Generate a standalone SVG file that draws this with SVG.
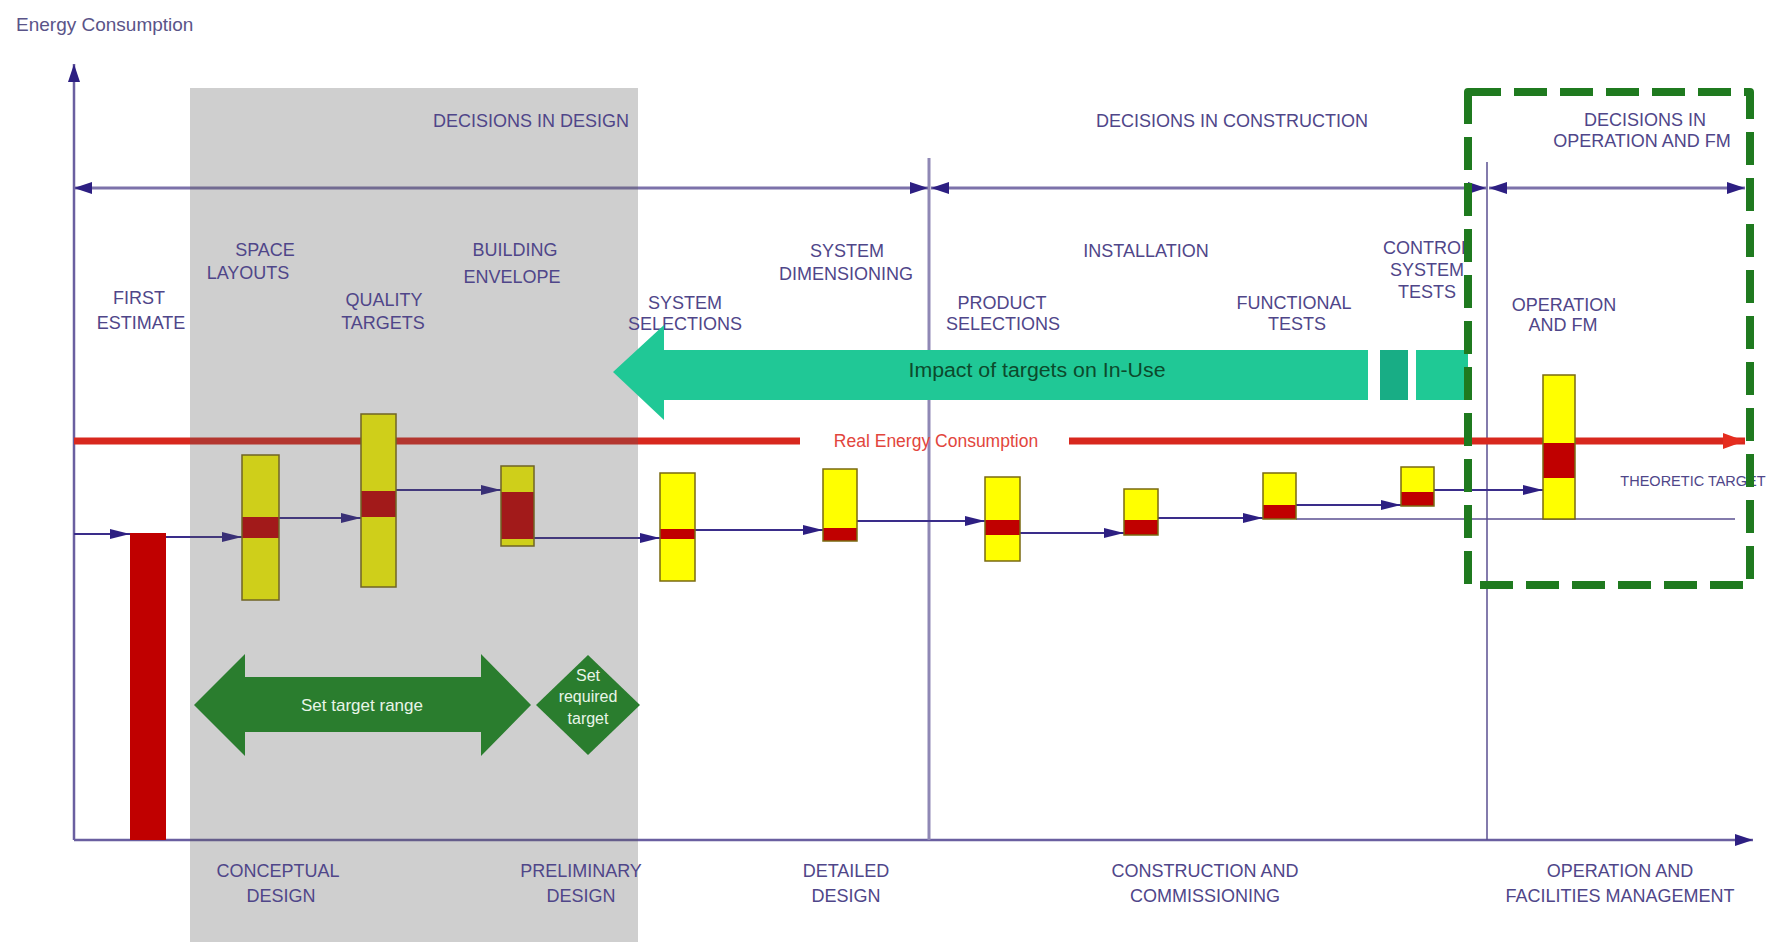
<svg xmlns="http://www.w3.org/2000/svg" width="1776" height="942" viewBox="0 0 1776 942">
<defs>
<style>
.lbl{font-family:"Liberation Sans",Arial,sans-serif;font-size:18px;fill:#4f4689;text-anchor:middle}
.ax{stroke:#6a5fa0;stroke-width:2.5;fill:none}
.top{stroke:#7c72aa;stroke-width:3;fill:none}
.con{stroke:#3a2d8a;stroke-width:1.8;fill:none;marker-end:url(#ah)}
.yel{fill:#ffff00}
.band{fill:#c00000}
.out{fill:none;stroke:#7a6a10;stroke-width:1.5}
.wt{font-family:"Liberation Sans",Arial,sans-serif;fill:#e8f5e8;text-anchor:middle}
</style>
<marker id="ah" viewBox="0 0 20 10" refX="20" refY="5" markerWidth="20" markerHeight="10" markerUnits="userSpaceOnUse" orient="auto"><path d="M0,0 L20,5 L0,10 z" fill="#2d1f82"/></marker>
<marker id="ahb" viewBox="0 0 18 12" refX="18" refY="6" markerWidth="18" markerHeight="12" markerUnits="userSpaceOnUse" orient="auto-start-reverse"><path d="M0,0 L18,6 L0,12 z" fill="#2d1f82"/></marker>
<marker id="ahr" viewBox="0 0 22 16" refX="22" refY="8" markerWidth="22" markerHeight="16" markerUnits="userSpaceOnUse" orient="auto"><path d="M0,0 L22,8 L0,16 z" fill="#e52d1f"/></marker>
</defs>
<rect width="1776" height="942" fill="#ffffff"/>

<g id="axes">
<line class="ax" x1="74" y1="840" x2="74" y2="64" marker-end="url(#ahb)"/>
<line class="ax" x1="74" y1="840" x2="1753" y2="840" marker-end="url(#ahb)"/>
<line x1="929" y1="158" x2="929" y2="840" stroke="#8f88b5" stroke-width="3"/>
<line x1="1487" y1="162" x2="1487" y2="840" stroke="#5a4f90" stroke-width="1.5"/>
</g>

<g id="connectors">
<line class="top" x1="74" y1="188" x2="928" y2="188" marker-start="url(#ahb)" marker-end="url(#ahb)"/>
<line class="top" x1="931" y1="188" x2="1486" y2="188" marker-start="url(#ahb)" marker-end="url(#ahb)"/>
<line class="top" x1="1489" y1="188" x2="1745" y2="188" marker-start="url(#ahb)" marker-end="url(#ahb)"/>
<line x1="74" y1="441" x2="800" y2="441" stroke="#d8281e" stroke-width="7"/>
<line x1="1069" y1="441" x2="1745" y2="441" stroke="#d8281e" stroke-width="7" marker-end="url(#ahr)"/>
<line x1="1296" y1="519" x2="1735" y2="519" stroke="#5a4f90" stroke-width="1.5"/>
<line class="con" x1="74" y1="534" x2="130" y2="534"/>
<line class="con" x1="166" y1="537" x2="242" y2="537"/>
<line class="con" x1="279" y1="518" x2="361" y2="518"/>
<line class="con" x1="396" y1="490" x2="501" y2="490"/>
<line class="con" x1="534" y1="538" x2="660" y2="538"/>
<line class="con" x1="695" y1="530" x2="823" y2="530"/>
<line class="con" x1="857" y1="521" x2="985" y2="521"/>
<line class="con" x1="1020" y1="533" x2="1124" y2="533"/>
<line class="con" x1="1158" y1="518" x2="1263" y2="518"/>
<line class="con" x1="1296" y1="505" x2="1401" y2="505"/>
<line class="con" x1="1434" y1="490" x2="1543" y2="490"/>
</g>

<g id="first-estimate-bar"><rect x="130" y="533" width="36" height="307" fill="#c00000"/></g>

<g id="box1"><rect class="yel" x="242" y="455" width="37" height="145"/><rect class="band" x="242" y="517" width="37" height="21"/><rect class="out" x="242" y="455" width="37" height="145"/></g>
<g id="box2"><rect class="yel" x="361" y="414" width="35" height="173"/><rect class="band" x="361" y="491" width="35" height="26"/><rect class="out" x="361" y="414" width="35" height="173"/></g>
<g id="box3"><rect class="yel" x="501" y="466" width="33" height="80"/><rect class="band" x="501" y="492" width="33" height="47"/><rect class="out" x="501" y="466" width="33" height="80"/></g>
<g id="box4"><rect class="yel" x="660" y="473" width="35" height="108"/><rect class="band" x="660" y="529" width="35" height="10"/><rect class="out" x="660" y="473" width="35" height="108"/></g>
<g id="box5"><rect class="yel" x="823" y="469" width="34" height="72"/><rect class="band" x="823" y="528" width="34" height="13"/><rect class="out" x="823" y="469" width="34" height="72"/></g>
<g id="box6"><rect class="yel" x="985" y="477" width="35" height="84"/><rect class="band" x="985" y="520" width="35" height="15"/><rect class="out" x="985" y="477" width="35" height="84"/></g>
<g id="box7"><rect class="yel" x="1124" y="489" width="34" height="46"/><rect class="band" x="1124" y="520" width="34" height="15"/><rect class="out" x="1124" y="489" width="34" height="46"/></g>
<g id="box8"><rect class="yel" x="1263" y="473" width="33" height="46"/><rect class="band" x="1263" y="505" width="33" height="14"/><rect class="out" x="1263" y="473" width="33" height="46"/></g>
<g id="box9"><rect class="yel" x="1401" y="467" width="33" height="39"/><rect class="band" x="1401" y="492" width="33" height="14"/><rect class="out" x="1401" y="467" width="33" height="39"/></g>
<g id="box10"><rect class="yel" x="1543" y="375" width="32" height="144"/><rect class="band" x="1543" y="443" width="32" height="35"/><rect class="out" x="1543" y="375" width="32" height="144"/></g>

<g id="design-zone"><rect x="190" y="88" width="448" height="854" fill="#5a5a5a" fill-opacity="0.29"/></g>

<g id="titles">
<text class="lbl" x="16" y="31" style="text-anchor:start;font-size:19px;fill:#5a5488">Energy Consumption</text>
<text class="lbl" x="531" y="127">DECISIONS IN DESIGN</text>
<text class="lbl" x="1232" y="127">DECISIONS IN CONSTRUCTION</text>
<text class="lbl" x="1645" y="126">DECISIONS IN</text>
<text class="lbl" x="1642" y="147">OPERATION AND FM</text>
</g>

<g id="stage-labels">
<text class="lbl" x="139" y="304">FIRST</text><text class="lbl" x="141" y="329">ESTIMATE</text>
<text class="lbl" x="265" y="256">SPACE</text><text class="lbl" x="248" y="279">LAYOUTS</text>
<text class="lbl" x="384" y="306">QUALITY</text><text class="lbl" x="383" y="329">TARGETS</text>
<text class="lbl" x="515" y="256">BUILDING</text><text class="lbl" x="512" y="283">ENVELOPE</text>
<text class="lbl" x="685" y="309">SYSTEM</text><text class="lbl" x="685" y="330">SELECTIONS</text>
<text class="lbl" x="847" y="257">SYSTEM</text><text class="lbl" x="846" y="280">DIMENSIONING</text>
<text class="lbl" x="1002" y="309">PRODUCT</text><text class="lbl" x="1003" y="330">SELECTIONS</text>
<text class="lbl" x="1146" y="257">INSTALLATION</text>
<text class="lbl" x="1294" y="309">FUNCTIONAL</text><text class="lbl" x="1297" y="330">TESTS</text>
<text class="lbl" x="1427" y="254">CONTROL</text><text class="lbl" x="1427" y="276">SYSTEM</text><text class="lbl" x="1427" y="298">TESTS</text>
<text class="lbl" x="1564" y="311">OPERATION</text><text class="lbl" x="1563" y="331">AND FM</text>
</g>

<g id="phase-labels">
<text class="lbl" x="278" y="877">CONCEPTUAL</text><text class="lbl" x="281" y="902">DESIGN</text>
<text class="lbl" x="581" y="877">PRELIMINARY</text><text class="lbl" x="581" y="902">DESIGN</text>
<text class="lbl" x="846" y="877">DETAILED</text><text class="lbl" x="846" y="902">DESIGN</text>
<text class="lbl" x="1205" y="877">CONSTRUCTION AND</text><text class="lbl" x="1205" y="902">COMMISSIONING</text>
<text class="lbl" x="1620" y="877">OPERATION AND</text><text class="lbl" x="1620" y="902">FACILITIES MANAGEMENT</text>
</g>

<g id="real-energy-label"><text class="lbl" x="936" y="447" style="fill:#e2453c;font-size:17.5px">Real Energy Consumption</text></g>
<g id="theoretic-label"><text class="lbl" x="1693" y="486" style="font-size:14.5px">THEORETIC TARGET</text></g>

<g id="impact-arrow">
<polygon points="613,372 664,325 664,350 1368,350 1368,400 664,400 664,420" fill="#20c896"/>
<rect x="1380" y="350" width="28" height="50" fill="#18ad85"/>
<rect x="1416" y="350" width="52" height="50" fill="#1fc995"/>
<text x="1037" y="377" style="font-family:'Liberation Sans',Arial,sans-serif;font-size:20px;fill:#0c4a2c;text-anchor:middle" textLength="257" lengthAdjust="spacingAndGlyphs">Impact of targets on In-Use</text>
</g>

<g id="target-range">
<polygon points="194,705 245,654 245,677 481,677 481,654 531,705 481,756 481,732 245,732 245,756" fill="#2a7d2e"/>
<text class="wt" x="362" y="711" style="font-size:17px">Set target range</text>
</g>
<g id="required-target">
<polygon points="588,655 640,705 588,755 536,705" fill="#2a7d2e"/>
<text class="wt" x="588" y="681" style="font-size:16px">Set</text>
<text class="wt" x="588" y="702" style="font-size:16px">required</text>
<text class="wt" x="588" y="724" style="font-size:16px">target</text>
</g>

<g id="operation-zone"><rect x="1468" y="92" width="282" height="493" fill="none" stroke="#1f7a1f" stroke-width="8" stroke-dasharray="33 13" stroke-linejoin="round"/></g>
</svg>
